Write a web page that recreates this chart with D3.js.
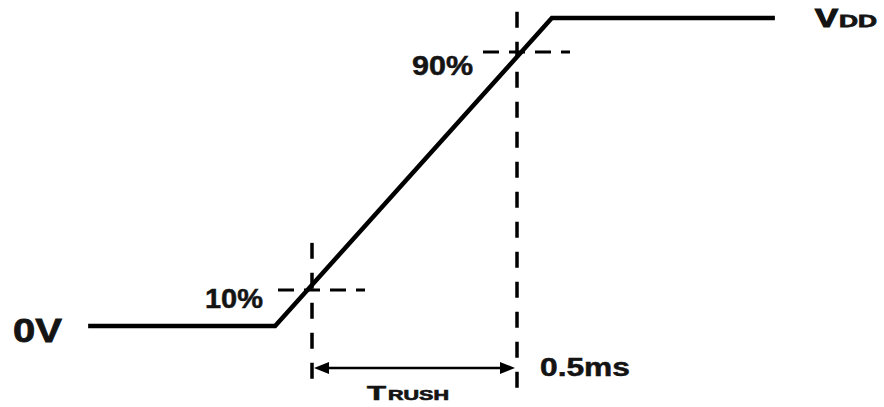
<!DOCTYPE html>
<html>
<head>
<meta charset="utf-8">
<script src="https://cdn.jsdelivr.net/npm/d3@7"></script>
<style>
  html, body { margin: 0; padding: 0; background: #fff; }
  svg { display: block; }
  text { font-family: "Liberation Sans", Arial, sans-serif; font-weight: bold; fill: #141414; stroke: #141414; stroke-width: 0.5; }
</style>
</head>
<body>
<svg id="chart" width="884" height="407"></svg>
<script>
// ---- data (time in ms relative to the 10% crossing, voltage as fraction of VDD) ----
const waveTime    = [-0.546, -0.09, 0.585, 1.129];
const waveVoltage = [0, 0, 1, 1];
const markerTimes  = [0, 0.5];          // 10% and 90% crossing instants
const markerLevels = [0.117, 0.89];     // horizontal reference levels as drawn
const markerLabels = ["10%", "90%"];
const levelLabels  = ["0V", "VDD"];
const timeLabel    = "0.5ms";
const spanLabel    = ["T", "RUSH"];

const svg = d3.select("#chart");
const x = d3.scaleLinear().domain([0, 0.5]).range([312, 517]);
const y = d3.scaleLinear().domain([0, 1]).range([326, 18]);

// vertical dashed markers
const vExtents = [[0.27, -0.19], [1.02, -0.24]];
svg.selectAll("line.vmark").data(markerTimes).join("line")
  .attr("class", "vmark")
  .attr("x1", d => x(d)).attr("x2", d => x(d))
  .attr("y1", (d, i) => y(vExtents[i][0]))
  .attr("y2", (d, i) => y(vExtents[i][1]))
  .attr("stroke", "#000").attr("stroke-width", 3.5)
  .attr("stroke-dasharray", "16,14");

// horizontal dashed markers
svg.selectAll("line.hmark").data(markerLevels).join("line")
  .attr("class", "hmark")
  .attr("x1", (d, i) => x(markerTimes[i]) - 34)
  .attr("x2", (d, i) => x(markerTimes[i]) + 53)
  .attr("y1", d => y(d)).attr("y2", d => y(d))
  .attr("stroke", "#000").attr("stroke-width", 3)
  .attr("stroke-dasharray", "16,10");

// waveform
const line = d3.line().x((d, i) => x(waveTime[i])).y(d => y(d));
svg.append("path")
  .datum(waveVoltage)
  .attr("d", line)
  .attr("fill", "none")
  .attr("stroke", "#000")
  .attr("stroke-width", 4.5)
  .attr("stroke-linejoin", "miter");

// double-headed arrow (T_RUSH)
const arrowV = -0.136;
const ay = y(arrowV);
const x0 = x(markerTimes[0]) + 2, x1 = x(markerTimes[1]) - 2;
svg.append("line")
  .attr("x1", x0 + 8).attr("x2", x1 - 8)
  .attr("y1", ay).attr("y2", ay)
  .attr("stroke", "#000").attr("stroke-width", 2.5);
svg.append("path")
  .attr("d", `M${x0},${ay} L${x0 + 15},${ay - 6} L${x0 + 15},${ay + 6} Z`)
  .attr("fill", "#000");
svg.append("path")
  .attr("d", `M${x1},${ay} L${x1 - 15},${ay - 6} L${x1 - 15},${ay + 6} Z`)
  .attr("fill", "#000");

// labels
function label(txt, px, py, size, len, sw) {
  const t = svg.append("text")
    .attr("x", px).attr("y", py)
    .attr("font-size", size)
    .attr("textLength", len)
    .attr("lengthAdjust", "spacingAndGlyphs")
    .text(txt);
  if (sw) t.style("stroke-width", sw);
}
label(levelLabels[0], 13, 342, 34, 49, 0.8);
label(markerLabels[0], 205, 308, 27, 58);
label(markerLabels[1], 412, 75, 27, 61);
label(timeLabel, 540, 376, 25, 90);
label("V", 815, 27, 26, 23, 1.2);
label(levelLabels[1].slice(1), 839, 27, 17, 38, 0.8);
label(spanLabel[0], 367, 400, 21, 19, 0.7);
label(spanLabel[1], 388, 400, 15, 61, 0.7);
</script>
</body>
</html>
